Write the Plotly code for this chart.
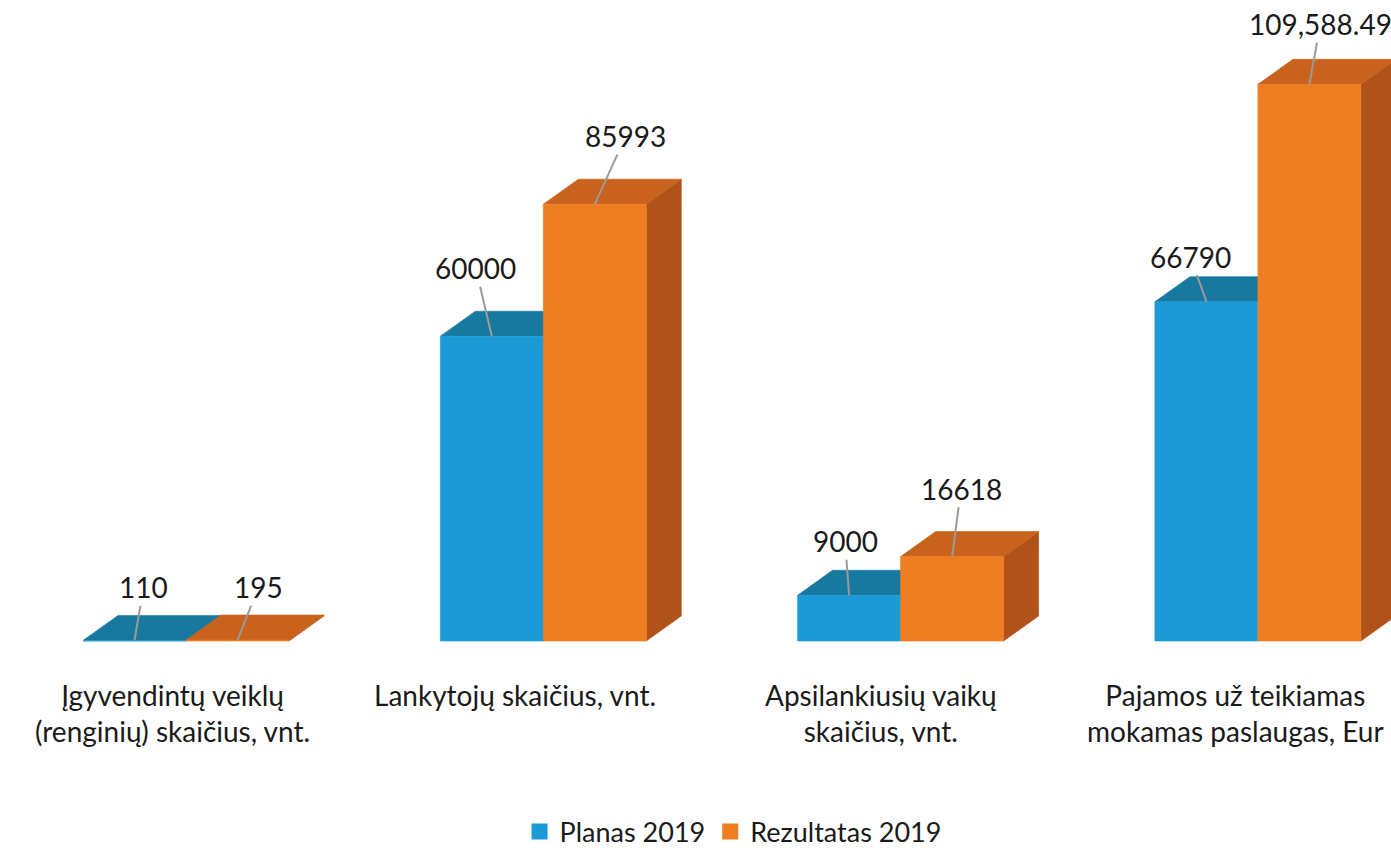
import plotly.graph_objects as go

# ---------------- data ----------------
categories = [
    "Įgyvendintų veiklų<br>(renginių) skaičius, vnt.",
    "Lankytojų skaičius, vnt.",
    "Apsilankiusių vaikų<br>skaičius, vnt.",
    "Pajamos už teikiamas<br>mokamas paslaugas, Eur",
]
series_names = ["Planas 2019", "Rezultatas 2019"]
planas = [110, 60000, 9000, 66790]
rezultatas = [195, 85993, 16618, 109588.49]
planas_labels = ["110", "60000", "9000", "66790"]
rezultatas_labels = ["195", "85993", "16618", "109,588.49"]

# ---------------- styling ----------------
FONT = "Lato"
TXT = "#1a1a1a"
front_colors = ["#1c9ad6", "#ef7d22"]
top_colors = ["#17799f", "#c9621d"]
side_colors = ["#136a8e", "#b0531a"]

W_PX, H_PX = 1391, 851
PX_PER_UNIT_X = 357.3          # pixels per category step
PX_PER_UNIT_Y = 5.08 / 1000.0  # pixels per value unit
X0_PX = 186                    # pixel of first category center
BASE_PX = 641                  # pixel of baseline

bar_w = 103 / PX_PER_UNIT_X
depth_dx = 35 / PX_PER_UNIT_X
depth_dy = 25 / PX_PER_UNIT_Y

x_range = [-X0_PX / PX_PER_UNIT_X, (W_PX - X0_PX) / PX_PER_UNIT_X]
y_range = [-(H_PX - BASE_PX) / PX_PER_UNIT_Y, BASE_PX / PX_PER_UNIT_Y]

# label offsets (pixels) for value labels: (ax, ay)
label_offsets = [
    [(9, -53), (-16, -68), (-4, -54), (-16, -45)],
    [(21, -53), (31, -68), (9, -68), (11, -60)],
]
cat_xshift = [-14, -28, -20, -22]

fig = go.Figure()


def poly(xs, ys, color):
    fig.add_trace(go.Scatter(
        x=xs + [xs[0]], y=ys + [ys[0]], mode="lines", fill="toself",
        fillcolor=color, line=dict(color=color, width=0.6),
        hoverinfo="skip", showlegend=False,
    ))


all_series = [planas, rezultatas]
all_labels = [planas_labels, rezultatas_labels]
positions = list(range(len(categories)))

for i, pos in enumerate(positions):
    for s, vals in enumerate(all_series):
        v = vals[i]
        x0 = pos - bar_w + s * bar_w
        x1 = x0 + bar_w
        # side face
        poly([x1, x1, x1 + depth_dx, x1 + depth_dx],
             [0, v, v + depth_dy, depth_dy], side_colors[s])
        # top face
        poly([x0, x1, x1 + depth_dx, x0 + depth_dx],
             [v, v, v + depth_dy, v + depth_dy], top_colors[s])
        # front face
        poly([x0, x1, x1, x0], [0, 0, v, v], front_colors[s])

# legend dummies
for s, name in enumerate(series_names):
    fig.add_trace(go.Scatter(
        x=[None], y=[None], mode="markers", name=name,
        marker=dict(symbol="square", size=16, color=front_colors[s]),
    ))

annotations = []
for i, pos in enumerate(positions):
    for s, vals in enumerate(all_series):
        v = vals[i]
        xc = pos - bar_w / 2 + s * bar_w
        ax, ay = label_offsets[s][i]
        annotations.append(dict(
            x=xc, y=v, xref="x", yref="y", text=all_labels[s][i],
            showarrow=True, arrowhead=0, arrowwidth=2, arrowcolor="#9a9a9a",
            ax=ax, ay=ay, font=dict(family=FONT, size=28, color=TXT),
        ))
    annotations.append(dict(
        x=pos, y=1 - 676 / H_PX, xref="x", yref="paper", text=categories[i],
        showarrow=False, xanchor="center", yanchor="top", xshift=cat_xshift[i],
        font=dict(family=FONT, size=28, color=TXT), align="center",
    ))

fig.update_layout(
    width=W_PX, height=H_PX,
    margin=dict(l=0, r=0, t=0, b=0, autoexpand=False),
    paper_bgcolor="white", plot_bgcolor="white",
    xaxis=dict(visible=False, range=x_range, fixedrange=True),
    yaxis=dict(visible=False, range=y_range, fixedrange=True),
    showlegend=True,
    legend=dict(orientation="h", x=0.527, y=1 - 832 / H_PX, xanchor="center",
                yanchor="middle", itemsizing="trace",
                font=dict(family=FONT, size=27, color=TXT)),
    annotations=annotations,
)

fig.write_html("out.html", post_script="document.body.style.margin='0';",
               config={"displayModeBar": False})
